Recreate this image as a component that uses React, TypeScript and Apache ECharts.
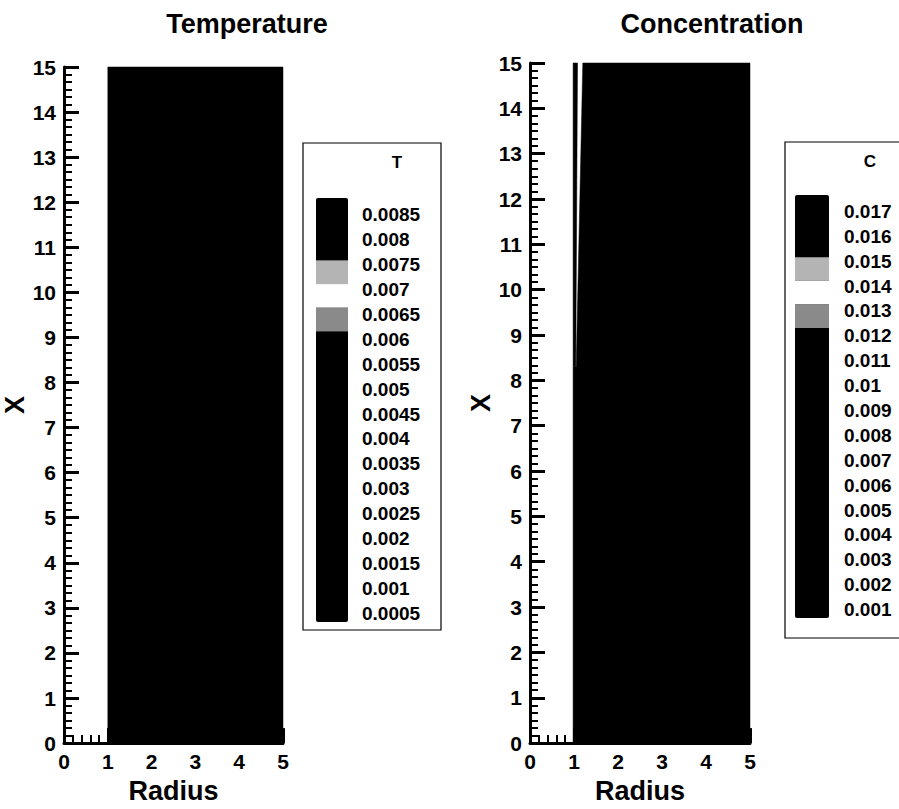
import React, { useEffect, useRef } from "react";
import * as echarts from "echarts";

// ---- data ----
const tempLevels = [0.0085, 0.008, 0.0075, 0.007, 0.0065, 0.006, 0.0055, 0.005, 0.0045, 0.004, 0.0035, 0.003, 0.0025, 0.002, 0.0015, 0.001, 0.0005];
const concLevels = [0.017, 0.016, 0.015, 0.014, 0.013, 0.012, 0.011, 0.01, 0.009, 0.008, 0.007, 0.006, 0.005, 0.004, 0.003, 0.002, 0.001];

// contour regions [radius, X]
const tempRegion = [[1.0, 0], [5, 0], [5, 15], [1.0, 15]];
const concRegion = [[0.98, 0], [5, 0], [5, 15], [1.2, 15], [1.05, 8.3], [0.98, 8.3]];
const concStrip = [[0.98, 8.3], [1.04, 8.3], [1.08, 15], [0.98, 15]];

const radiusRange = [0, 5];
const xRange = [0, 15];

const FONT = "'Liberation Sans', Arial, Helvetica, sans-serif";

function polySeries(poly: number[][], idx: number) {
  return {
    type: "custom",
    coordinateSystem: "cartesian2d",
    xAxisIndex: idx,
    yAxisIndex: idx,
    silent: true,
    z: 5,
    data: poly,
    renderItem: (params: any, api: any) => {
      if (params.dataIndex !== 0) return null;
      return {
        type: "polygon",
        shape: { points: poly.map((p) => api.coord(p)) },
        style: { fill: "#000", stroke: "#000", lineWidth: 0.5 },
      };
    },
  };
}

function xAxisCfg(idx: number) {
  return {
    type: "value",
    gridIndex: idx,
    min: radiusRange[0],
    max: radiusRange[1],
    interval: 1,
    name: "Radius",
    nameLocation: "middle",
    nameGap: 27,
    nameTextStyle: { fontFamily: FONT, fontWeight: "bold", fontSize: 27, color: "#000" },
    axisLine: { show: true, onZero: false, lineStyle: { color: "#000", width: 3 } },
    axisTick: { show: true, inside: true, length: 15, lineStyle: { color: "#000", width: 3 } },
    minorTick: { show: true, splitNumber: 5, length: 8, lineStyle: { color: "#000", width: 2 } },
    axisLabel: { fontFamily: FONT, fontWeight: "bold", fontSize: 21, color: "#000", margin: 8 },
    splitLine: { show: false },
  };
}

function yAxisCfg(idx: number) {
  return {
    type: "value",
    gridIndex: idx,
    min: xRange[0],
    max: xRange[1],
    interval: 1,
    name: "X",
    nameLocation: "middle",
    nameRotate: 90,
    nameGap: 23,
    nameTextStyle: { fontFamily: FONT, fontWeight: "bold", fontSize: 27, color: "#000" },
    axisLine: { show: true, onZero: false, lineStyle: { color: "#000", width: 3 } },
    axisTick: { show: true, inside: true, length: 15, lineStyle: { color: "#000", width: 3 } },
    minorTick: { show: true, splitNumber: 6, length: 8, lineStyle: { color: "#000", width: 2 } },
    axisLabel: { fontFamily: FONT, fontWeight: "bold", fontSize: 21, color: "#000", margin: 8 },
    splitLine: { show: false },
  };
}

function legendGraphic(
  levels: number[],
  name: string,
  box: { x: number; y: number; w: number; h: number },
  bar: { x: number; y: number; w: number; h: number },
  nameX: number,
  labelX: number
) {
  const n = levels.length;
  const bh = bar.h / n;
  const els: any[] = [];
  els.push({
    type: "rect",
    shape: { x: box.x, y: box.y, width: box.w, height: box.h },
    style: { fill: "#fff", stroke: "#000", lineWidth: 1.2 },
  });
  els.push({
    type: "text",
    x: nameX,
    y: box.y + 19,
    style: { text: name, font: `bold 17px ${FONT}`, fill: "#000", align: "center", verticalAlign: "middle" },
  });
  els.push({
    type: "rect",
    shape: { x: bar.x, y: bar.y, width: bar.w, height: bar.h, r: 2 },
    style: { fill: "#000" },
  });
  // light bands (scan shows grey / white / grey in the middle levels)
  const bands = [
    { from: 2.5, to: 3.45, fill: "#b4b4b4" },
    { from: 3.45, to: 4.4, fill: "#ffffff" },
    { from: 4.4, to: 5.35, fill: "#8a8a8a" },
  ];
  bands.forEach((b) => {
    els.push({
      type: "rect",
      shape: { x: bar.x, y: bar.y + b.from * bh, width: bar.w, height: (b.to - b.from) * bh },
      style: { fill: b.fill },
    });
  });
  levels.forEach((v, i) => {
    els.push({
      type: "text",
      x: labelX,
      y: bar.y + (i + 0.5) * bh + 4,
      style: { text: String(v), font: `bold 19px ${FONT}`, fill: "#000", align: "left", verticalAlign: "middle" },
    });
  });
  return els;
}

export default function App() {
  const ref = useRef<HTMLDivElement>(null);
  useEffect(() => {
    if (!ref.current) return;
    const chart = echarts.init(ref.current, undefined, { renderer: "svg" });
    chart.setOption({
      animation: false,
      backgroundColor: "#fff",
      grid: [
        { left: 64, top: 67, width: 219, height: 680 },
        { left: 530, top: 63, width: 220, height: 684 },
      ],
      xAxis: [xAxisCfg(0), xAxisCfg(1)],
      yAxis: [yAxisCfg(0), yAxisCfg(1)],
      series: [polySeries(tempRegion, 0), polySeries(concRegion, 1), polySeries(concStrip, 1)],
      graphic: [
        {
          type: "text",
          x: 247,
          y: 24,
          style: { text: "Temperature", font: `bold 27px ${FONT}`, fill: "#000", align: "center", verticalAlign: "middle" },
        },
        {
          type: "text",
          x: 712,
          y: 24,
          style: { text: "Concentration", font: `bold 27px ${FONT}`, fill: "#000", align: "center", verticalAlign: "middle" },
        },
        ...legendGraphic(tempLevels, "T", { x: 303, y: 143, w: 138, h: 487 }, { x: 316, y: 198, w: 32, h: 424 }, 397, 362),
        ...legendGraphic(concLevels, "C", { x: 785, y: 142, w: 140, h: 496 }, { x: 795, y: 195, w: 34, h: 423 }, 870, 844),
      ],
    });
    return () => chart.dispose();
  }, []);
  return <div ref={ref} style={{ position: "fixed", left: 0, top: 0, width: 899, height: 809, background: "#fff" }} />;
}
